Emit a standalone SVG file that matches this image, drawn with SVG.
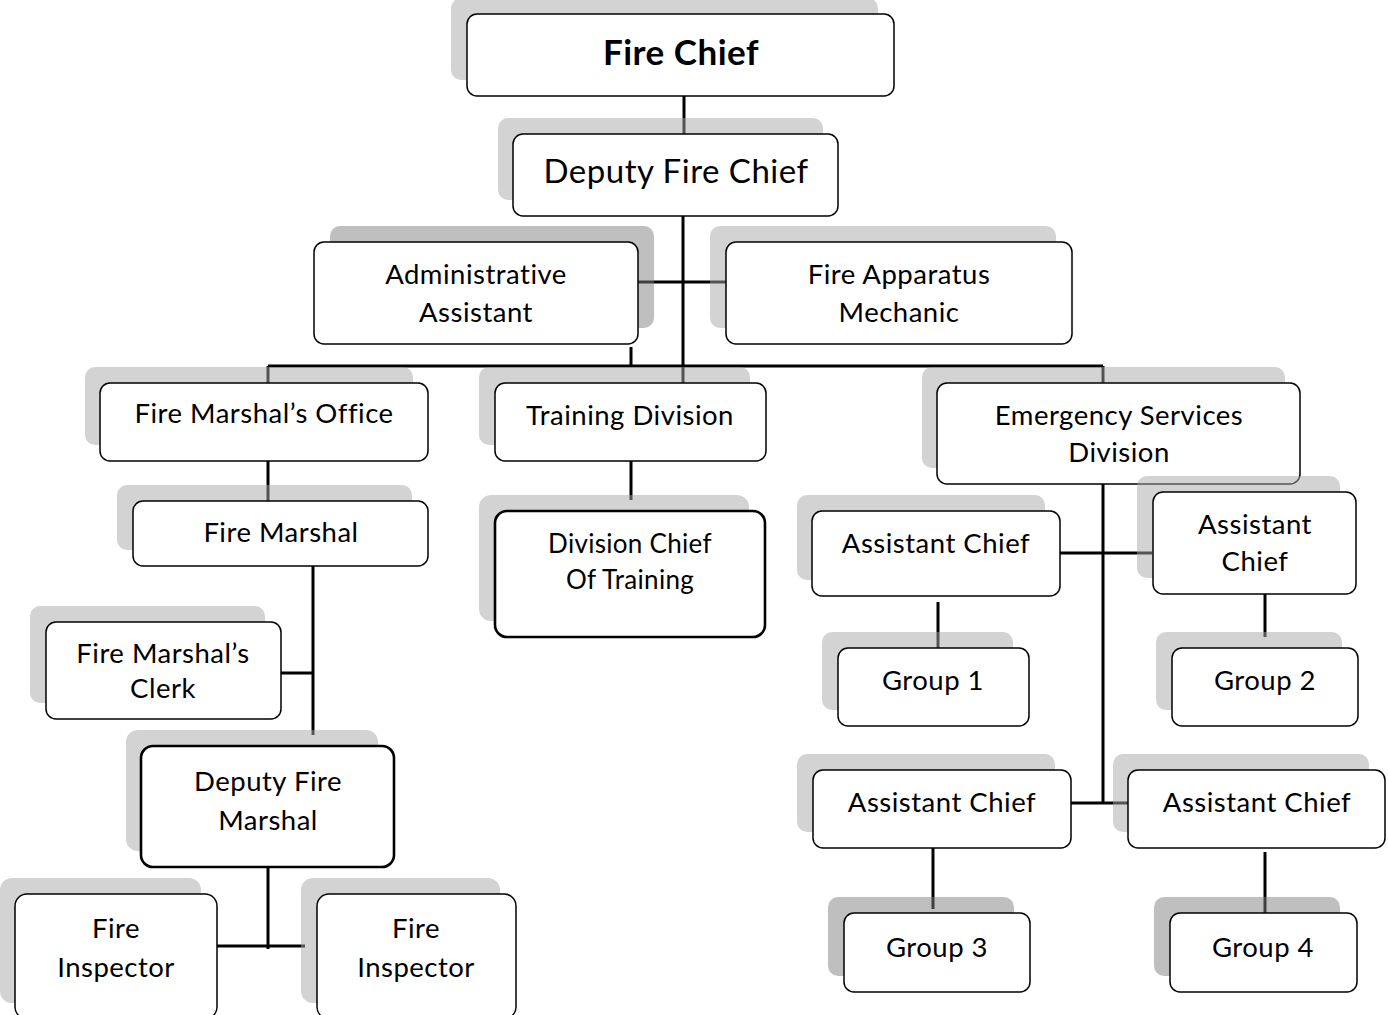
<svg xmlns="http://www.w3.org/2000/svg" width="1388" height="1015" viewBox="0 0 1388 1015">
<style>
.bg{fill:#fff}
.sh{fill:#a8a8a8;fill-opacity:0.5}
.shd{fill:#7f7f7f;fill-opacity:0.5}
.box{fill:#fff;stroke:#000;stroke-width:1.5}
.thick{stroke-width:2.6}
.t{font-family:Lato,"Liberation Sans",sans-serif;font-size:27.5px;letter-spacing:0.5px;fill:#000;text-anchor:middle}
.sm{font-size:26px;letter-spacing:0.3px}
.big{font-size:33px}
.bold{font-weight:bold;font-size:35px}
.c{stroke:#000;stroke-width:3;fill:none}
</style>
<rect class="bg" x="0" y="0" width="1388" height="1015"/>
<g id="connectors">
<path class="c" d="M684 96V134"/>
<path class="c" d="M683 216V383"/>
<path class="c" d="M638 282H730"/>
<path class="c" d="M631 347V366"/>
<path class="c" d="M268 366H1103"/>
<path class="c" d="M268 366V383"/>
<path class="c" d="M1103 366V383"/>
<path class="c" d="M268 461V501"/>
<path class="c" d="M313 566V735"/>
<path class="c" d="M281 673H313"/>
<path class="c" d="M268 868V949"/>
<path class="c" d="M217 946H305"/>
<path class="c" d="M631 461V500"/>
<path class="c" d="M1103 484V803"/>
<path class="c" d="M1060 553H1152"/>
<path class="c" d="M1071 803H1128"/>
<path class="c" d="M938 602V648"/>
<path class="c" d="M1265 594V637"/>
<path class="c" d="M933 848V909"/>
<path class="c" d="M1265 852V913"/>
</g>
<g id="fire-chief">
<rect class="sh" x="451" y="-2" width="427" height="82" rx="10"/>
<rect class="box" x="467" y="14" width="427" height="82" rx="10"/>
<text class="t bold" x="681" y="65">Fire Chief</text>
</g>
<g id="deputy-fire-chief">
<rect class="sh" x="498" y="118" width="325" height="82" rx="10"/>
<rect class="box" x="513" y="134" width="325" height="82" rx="10"/>
<text class="t big" x="676" y="183">Deputy Fire Chief</text>
</g>
<g id="administrative-assistant">
<rect class="shd" x="330" y="226" width="324" height="102" rx="10"/>
<rect class="box" x="314" y="242" width="324" height="102" rx="10"/>
<text class="t" x="476" y="284">Administrative</text>
<text class="t" x="476" y="322">Assistant</text>
</g>
<g id="fire-apparatus-mechanic">
<rect class="sh" x="710" y="226" width="346" height="102" rx="10"/>
<rect class="box" x="726" y="242" width="346" height="102" rx="10"/>
<text class="t" x="899" y="284">Fire Apparatus</text>
<text class="t" x="899" y="322">Mechanic</text>
</g>
<g id="fire-marshals-office">
<rect class="sh" x="85" y="367" width="328" height="78" rx="10"/>
<rect class="box" x="100" y="383" width="328" height="78" rx="10"/>
<text class="t" x="264" y="423">Fire Marshal’s Office</text>
</g>
<g id="training-division">
<rect class="sh" x="479" y="367" width="271" height="78" rx="10"/>
<rect class="box" x="495" y="383" width="271" height="78" rx="10"/>
<text class="t" x="630" y="425">Training Division</text>
</g>
<g id="emergency-services-division">
<rect class="sh" x="922" y="367" width="363" height="101" rx="10"/>
<rect class="box" x="937" y="383" width="363" height="101" rx="10"/>
<text class="t" x="1119" y="425">Emergency Services</text>
<text class="t" x="1119" y="462">Division</text>
</g>
<g id="fire-marshal">
<rect class="sh" x="117" y="485" width="295" height="65" rx="10"/>
<rect class="box" x="133" y="501" width="295" height="65" rx="10"/>
<text class="t" x="281" y="542">Fire Marshal</text>
</g>
<g id="division-chief-of-training">
<rect class="sh" x="479" y="495" width="270" height="126" rx="12"/>
<rect class="box thick" x="495" y="511" width="270" height="126" rx="12"/>
<text class="t sm" x="630" y="553">Division Chief</text>
<text class="t sm" x="630" y="589">Of Training</text>
</g>
<g id="fire-marshals-clerk">
<rect class="sh" x="30" y="606" width="235" height="97" rx="10"/>
<rect class="box" x="46" y="622" width="235" height="97" rx="10"/>
<text class="t" x="163" y="663">Fire Marshal’s</text>
<text class="t" x="163" y="698">Clerk</text>
</g>
<g id="deputy-fire-marshal">
<rect class="sh" x="126" y="730" width="252" height="121" rx="12"/>
<rect class="box thick" x="141" y="746" width="253" height="121" rx="12"/>
<text class="t" x="268" y="791">Deputy Fire</text>
<text class="t" x="268" y="830">Marshal</text>
</g>
<g id="fire-inspector-1">
<rect class="sh" x="0" y="878" width="201" height="125" rx="12"/>
<rect class="box" x="15" y="894" width="202" height="125" rx="12"/>
<text class="t" x="116" y="938">Fire</text>
<text class="t" x="116" y="977">Inspector</text>
</g>
<g id="fire-inspector-2">
<rect class="sh" x="301" y="878" width="199" height="125" rx="12"/>
<rect class="box" x="317" y="894" width="199" height="125" rx="12"/>
<text class="t" x="416" y="938">Fire</text>
<text class="t" x="416" y="977">Inspector</text>
</g>
<g id="assistant-chief-1">
<rect class="sh" x="797" y="495" width="248" height="85" rx="10"/>
<rect class="box" x="812" y="511" width="248" height="85" rx="10"/>
<text class="t" x="936" y="553">Assistant Chief</text>
</g>
<g id="assistant-chief-2">
<rect class="sh" x="1137" y="476" width="203" height="102" rx="10"/>
<rect class="box" x="1153" y="492" width="203" height="102" rx="10"/>
<text class="t" x="1255" y="534">Assistant</text>
<text class="t" x="1255" y="571">Chief</text>
</g>
<g id="group-1">
<rect class="sh" x="822" y="632" width="191" height="78" rx="10"/>
<rect class="box" x="838" y="648" width="191" height="78" rx="10"/>
<text class="t" x="933" y="690">Group 1</text>
</g>
<g id="group-2">
<rect class="sh" x="1156" y="632" width="186" height="78" rx="10"/>
<rect class="box" x="1172" y="648" width="186" height="78" rx="10"/>
<text class="t" x="1265" y="690">Group 2</text>
</g>
<g id="assistant-chief-3">
<rect class="sh" x="797" y="754" width="258" height="78" rx="10"/>
<rect class="box" x="813" y="770" width="258" height="78" rx="10"/>
<text class="t" x="942" y="812">Assistant Chief</text>
</g>
<g id="assistant-chief-4">
<rect class="sh" x="1113" y="754" width="256" height="78" rx="10"/>
<rect class="box" x="1128" y="770" width="257" height="78" rx="10"/>
<text class="t" x="1257" y="812">Assistant Chief</text>
</g>
<g id="group-3">
<rect class="shd" x="828" y="897" width="186" height="79" rx="10"/>
<rect class="box" x="844" y="913" width="186" height="79" rx="10"/>
<text class="t" x="937" y="957">Group 3</text>
</g>
<g id="group-4">
<rect class="shd" x="1154" y="897" width="186" height="79" rx="10"/>
<rect class="box" x="1170" y="913" width="187" height="79" rx="10"/>
<text class="t" x="1263" y="957">Group 4</text>
</g>
</svg>
